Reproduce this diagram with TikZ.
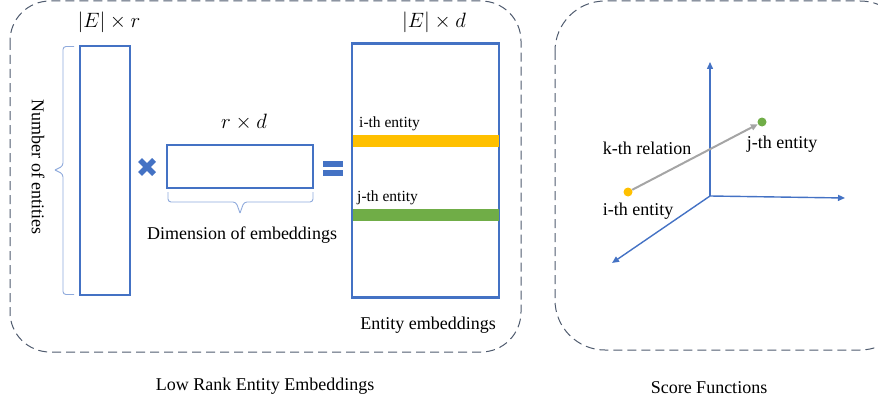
\documentclass[tikz,border=0pt]{standalone}
\usepackage{fontspec}
\setmainfont{Liberation Serif}
\usetikzlibrary{arrows.meta,calc}
\definecolor{oblue}{HTML}{4472C4}
\definecolor{oorange}{HTML}{FFC000}
\definecolor{ogreen}{HTML}{70AD47}
\definecolor{ogray}{HTML}{A5A5A5}
\definecolor{odash}{HTML}{4F5B6E}
\definecolor{obrace}{HTML}{8FAADC}
\tikzset{
  panel/.style={draw=odash, line width=1pt, dash pattern=on 9pt off 5pt},
  matbox/.style={draw=oblue, line width=1.8pt, inner sep=0pt, fill=white},
  lab/.style={font=\fontsize{18}{21}\selectfont, inner sep=0pt, text=black},
  mathlab/.style={font=\fontsize{20}{23}\selectfont, inner sep=0pt, text=black},
  smalllab/.style={font=\fontsize{15.5}{18}\selectfont, inner sep=0pt, text=black, anchor=west},
  bracepath/.style={draw=obrace, line width=0.9pt, rounded corners=3pt},
  axis/.style={draw=oblue, line width=1.4pt, -{Triangle[length=7pt,width=6pt]}},
  dot/.style={circle, inner sep=0pt, minimum size=9pt},
}
\begin{document}
\begin{tikzpicture}[x=1pt,y=-1pt]
\useasboundingbox (0,0) rectangle (878,404);
\begin{scope}
\clip (0,0) rectangle (878,404);
\draw[panel, rounded corners=40pt] (10,1) rectangle (521,352);
\draw[panel, rounded corners=50pt] (555,1) rectangle (910,350);
\end{scope}

% left panel
\node[matbox, minimum width=50pt, minimum height=249pt] (mE) at (105,170.5) {};
\node[matbox, minimum width=146pt, minimum height=43pt] (mR) at (240,166.5) {};
\node[matbox, minimum width=146pt, minimum height=253pt] (mD) at (425.5,170.5) {};
\fill[oorange] (mD.west |- 0,135) rectangle (mD.east |- 0,147);
\fill[ogreen] (mD.west |- 0,208.5) rectangle (mD.east |- 0,220.5);
\draw[oblue, line width=1.8pt] (mD.north west) rectangle (mD.south east);

\node[mathlab] (tE) at (109,22) {$|E|\times r$};
\node[mathlab] (tR) at (244,122) {$r\times d$};
\node[mathlab] (tD) at (434,22) {$|E|\times d$};
\node[lab, rotate=-90] (tN) at (38,167) {Number of entities};
\node[lab] (tDim) at (242,235) {Dimension of embeddings};
\node[lab] (tEE) at (428,325) {Entity embeddings};
\node[smalllab] (ti) at (359,124) {i-th entity};
\node[smalllab] (tj) at (357,198) {j-th entity};
\node[lab] (tLow) at (265,386) {Low Rank Entity Embeddings};

% left brace
\coordinate (bl1) at (74,46.5);
\coordinate (bl2) at (74,294.5);
\coordinate (bltip) at (55,170);
\draw[bracepath] (bl1) -- (63,46.5) -- (63,166) -- (bltip);
\draw[bracepath] (bltip) -- (63,174) -- (63,294.5) -- (bl2);
% bottom brace
\coordinate (bb1) at (168,192);
\coordinate (bb2) at (313,192);
\coordinate (bbtip) at (240,213);
\draw[bracepath] (bb1) -- (168,202) -- (236,202) -- (bbtip);
\draw[bracepath] (bbtip) -- (244,202) -- (313,202) -- (bb2);

% times sign
\coordinate (xc) at (147,167);
\draw[oblue, line width=5.5pt] ($(xc)+(-7,-7)$) -- ($(xc)+(7,7)$);
\draw[oblue, line width=5.5pt] ($(xc)+(-7,7)$) -- ($(xc)+(7,-7)$);
% equals sign
\node[fill=oblue, minimum width=20pt, minimum height=5.5pt, inner sep=0pt] (eq1) at (333,164) {};
\node[fill=oblue, minimum width=20pt, minimum height=5.5pt, inner sep=0pt] (eq2) at (333,173) {};

% right panel
\coordinate (o) at (710,196);
\coordinate (ay) at (710,62);
\coordinate (ax) at (845,198);
\coordinate (az) at (612,263);
\draw[axis] (o) -- (ay);
\draw[axis] (o) -- (ax);
\draw[axis] (o) -- (az);
\node[dot, fill=oorange] (ei) at (628,192) {};
\node[dot, fill=ogreen] (ej) at (762,122) {};
\draw[ogray, line width=2pt, -{Triangle[length=7pt,width=6pt]}] (ei) -- (ej);
\node[lab] (tk) at (647,148) {k-th relation};
\node[lab] (tjr) at (782,144) {j-th entity};
\node[lab] (tir) at (638,211) {i-th entity};
\node[lab] (tSF) at (709,388) {Score Functions};
\end{tikzpicture}
\end{document}
